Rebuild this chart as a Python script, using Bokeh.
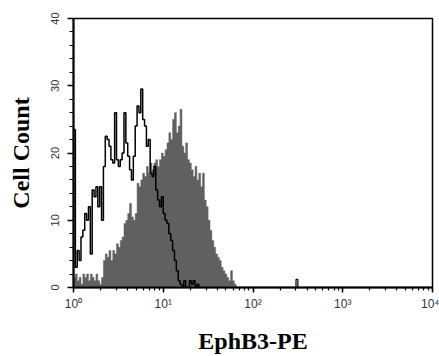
import numpy as np
from bokeh.plotting import figure
from bokeh.models import Range1d, LogTicker, SingleIntervalTicker
from bokeh.embed import file_html
from bokeh.resources import INLINE

# channels: 48 per decade, log10 edges k/48 starting at 10^0
channels_per_decade = 48

# stained sample (filled grey), counts per channel starting at channel 0
filled_counts = [1.5, 2, 1, 1.5, 0.5, 2, 1.5, 2, 1, 2,
                 1.5, 1, 2, 1, 0.5, 1.5, 4, 5, 4.5, 5.5,
                 4, 5.5, 5, 6.5, 6, 7, 7.5, 9.5, 10, 11,
                 12.5, 10.5, 10, 11, 15.5, 15, 16, 17, 16.5, 18,
                 17, 18.5, 17.5, 18.5, 19, 18, 19, 20, 19.5, 20.5,
                 21.5, 23, 22, 25, 26, 23, 24, 26.5, 21, 20,
                 21.5, 19, 18.5, 17.5, 16.5, 18, 16, 17, 15, 17,
                 13, 12, 10, 8.5, 7, 6, 5, 4.5, 4, 3,
                 2.5, 2, 1.5, 1, 2.5, 1, 0.5, 0]

# control (open black outline), counts per channel starting at channel 0
open_counts = [23.5, 3, 5.5, 4, 7.5, 8.5, 11, 10, 12, 5,
               14.5, 13.5, 15, 12, 15, 10, 18, 22.5, 22, 21,
               19, 18.5, 26, 19, 18, 19, 20, 26, 21.5, 19.5,
               17.5, 16, 19.5, 24, 27, 26, 29.5, 25, 24, 21,
               22, 17, 16.5, 18, 14.5, 13, 12, 13.5, 11, 10,
               9.5, 8, 7, 5.5, 4, 2.5, 1, 0.5, 0, 1,
               0, 0, 1, 0.5, 1, 0, 0.5, 0]
open_spike_channel = 119
open_spike_count = 1.2

x_tick_values = [1, 10, 100, 1000, 10000]
x_tick_labels = ["10\u2070", "10\u00b9", "10\u00b2", "10\u00b3", "10\u2074"]


def step_xy(counts, start=0):
    n = len(counts)
    edges = 10 ** (np.arange(start, start + n + 1) / channels_per_decade)
    xs = np.repeat(edges, 2)
    ys = np.concatenate([[0], np.repeat(counts, 2), [0]])
    return xs, ys


p = figure(width=439, height=356, x_axis_type="log",
           x_range=Range1d(1, 10000), y_range=Range1d(0, 40),
           output_backend="svg", toolbar_location=None,
           min_border_left=73, min_border_right=7, min_border_top=18,
           min_border_bottom=68, background_fill_color="white",
           border_fill_color="white")

fx, fy = step_xy(filled_counts)
p.patch(fx, fy, fill_color="#606060", line_color="#606060", line_width=0.5)

ox, oy = step_xy(open_counts)
p.line(ox, oy, line_color="black", line_width=1.5)
sx, sy = step_xy([open_spike_count], start=open_spike_channel)
p.line(sx, sy, line_color="black", line_width=1.2)

p.xgrid.visible = False
p.ygrid.visible = False
p.outline_line_color = "black"
p.outline_line_width = 1.5
p.outline_line_alpha = 1

xa = p.xaxis[0]
xa.ticker = LogTicker(num_minor_ticks=10)
xa.major_label_overrides = {v: t for v, t in zip(x_tick_values, x_tick_labels)}
xa.axis_label = "EphB3-PE"
xa.axis_label_text_font = "Liberation Serif"
xa.axis_label_text_font_style = "bold"
xa.axis_label_text_font_size = "24px"
xa.axis_label_text_color = "black"
xa.axis_label_standoff = 14
xa.major_label_text_font = "Liberation Sans"
xa.major_label_text_font_size = "12px"
xa.major_label_text_color = "#333333"
xa.major_label_standoff = 4
xa.axis_line_width = 2
xa.major_tick_line_width = 1.5
xa.minor_tick_line_width = 1.2
xa.major_tick_out = 5
xa.major_tick_in = 0
xa.minor_tick_out = 3
xa.minor_tick_in = 0

ya = p.yaxis[0]
ya.ticker = SingleIntervalTicker(interval=10, num_minor_ticks=5)
ya.axis_label = "Cell Count"
ya.axis_label_text_font = "Liberation Serif"
ya.axis_label_text_font_style = "bold"
ya.axis_label_text_font_size = "24px"
ya.axis_label_text_color = "black"
ya.axis_label_standoff = 14
ya.major_label_orientation = "vertical"
ya.major_label_text_font = "Liberation Sans"
ya.major_label_text_font_size = "11px"
ya.major_label_text_color = "#333333"
ya.major_label_standoff = 9
ya.axis_line_width = 2
ya.major_tick_line_width = 1.5
ya.minor_tick_line_width = 1.2
ya.major_tick_out = 6
ya.major_tick_in = 0
ya.minor_tick_out = 4
ya.minor_tick_in = 0

open("out.html", "w").write(file_html(p, INLINE))
